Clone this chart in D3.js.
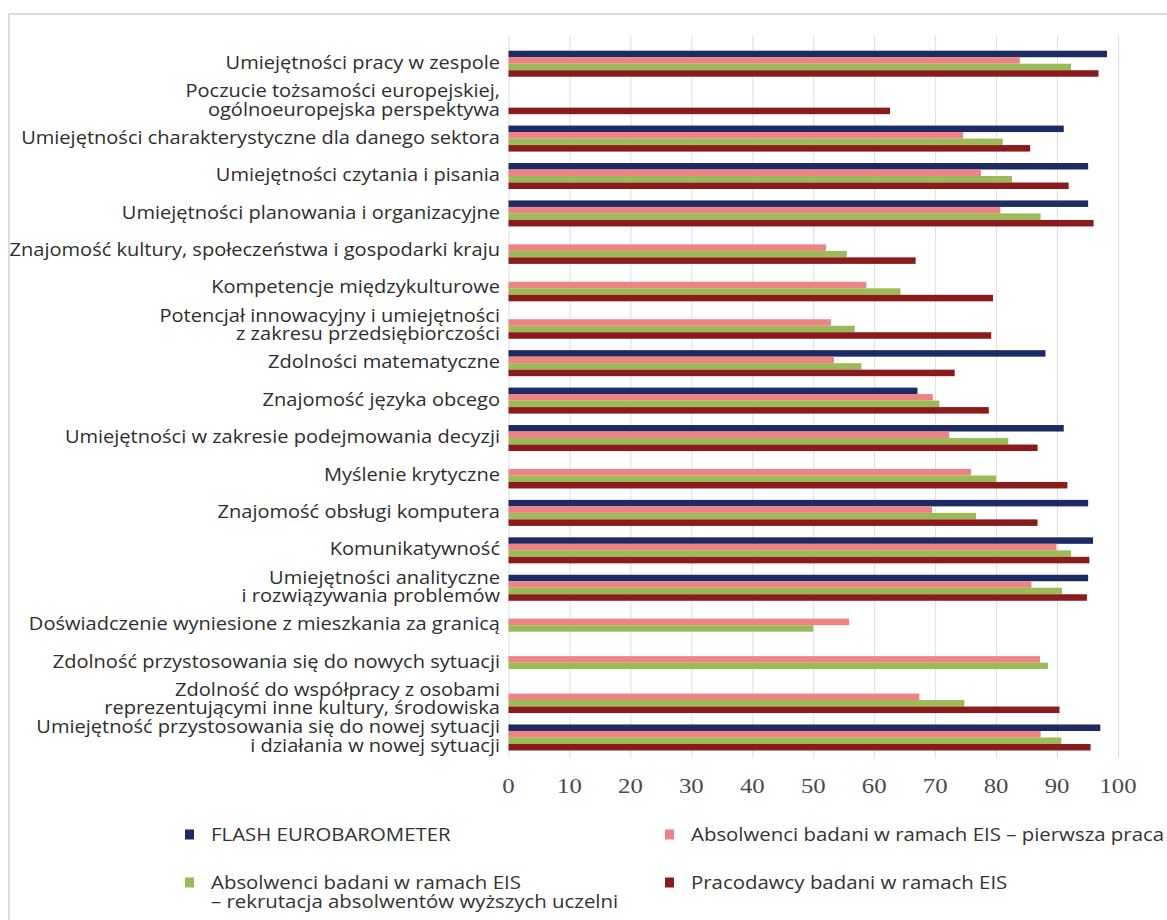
<!DOCTYPE html>
<html lang="pl">
<head>
<meta charset="utf-8">
<script src="https://cdn.jsdelivr.net/npm/d3@7"></script>
<style>
  html, body { margin: 0; padding: 0; background: #fff; }
  svg { display: block; }
</style>
</head>
<body>
<svg id="chart" width="1167" height="920"></svg>
<script>
// Skill categories (top to bottom); multi-line labels are split on "\n"
const categories = [
  "Umiejętności pracy w zespole",
  "Poczucie tożsamości europejskiej,\nogólnoeuropejska perspektywa",
  "Umiejętności charakterystyczne dla danego sektora",
  "Umiejętności czytania i pisania",
  "Umiejętności planowania i organizacyjne",
  "Znajomość kultury, społeczeństwa i gospodarki kraju",
  "Kompetencje międzykulturowe",
  "Potencjał innowacyjny i umiejętności\nz zakresu przedsiębiorczości",
  "Zdolności matematyczne",
  "Znajomość języka obcego",
  "Umiejętności w zakresie podejmowania decyzji",
  "Myślenie krytyczne",
  "Znajomość obsługi komputera",
  "Komunikatywność",
  "Umiejętności analityczne\ni rozwiązywania problemów",
  "Doświadczenie wyniesione z mieszkania za granicą",
  "Zdolność przystosowania się do nowych sytuacji",
  "Zdolność do współpracy z osobami\nreprezentującymi inne kultury, środowiska",
  "Umiejętność przystosowania się do nowej sytuacji\ni działania w nowej sytuacji"
];

// Series values (%), null = not surveyed
const flashEurobarometer = [98.2, null, 91.1, 95.1, 95.1, null, null, null, 88.1, 67.1, 91.1, null, 95.1, 95.9, 95.1, null, null, null, 97.1];
const graduatesFirstJob  = [83.9, null, 74.6, 77.5, 80.7, 52.1, 58.7, 52.9, 53.4, 69.6, 72.3, 75.9, 69.5, 89.9, 85.8, 55.9, 87.2, 67.4, 87.3];
const graduatesRecruit   = [92.3, null, 81.1, 82.6, 87.3, 55.5, 64.3, 56.8, 57.9, 70.7, 82.0, 80.0, 76.7, 92.3, 90.8, 50.0, 88.5, 74.8, 90.7];
const employers          = [96.8, 62.6, 85.6, 91.9, 96.0, 66.8, 79.5, 79.2, 73.2, 78.8, 86.8, 91.7, 86.8, 95.3, 94.9, null, null, 90.4, 95.5];

const seriesNames = [
  "FLASH EUROBAROMETER",
  "Absolwenci badani w ramach EIS – pierwsza praca",
  "Absolwenci badani w ramach EIS\n– rekrutacja absolwentów wyższych uczelni",
  "Pracodawcy badani w ramach EIS"
];
const seriesColors = ["#1d2a63", "#ef8282", "#9bbb59", "#8b1a1a"];
const xTicks = [0, 10, 20, 30, 40, 50, 60, 70, 80, 90, 100];

const seriesValues = [flashEurobarometer, graduatesFirstJob, graduatesRecruit, employers];
const rows = categories.map((c, i) => ({
  category: c,
  values: seriesValues.map((arr, s) => ({ s, v: arr[i] }))
}));

const svg = d3.select("#chart");
const textStretch = 1.18;
const labelStretch = 1.145;

// Outer frame
svg.append("line").attr("x1", 8).attr("x2", 1167).attr("y1", 14).attr("y2", 14)
  .attr("stroke", "#dcdcdc").attr("stroke-width", 2);
svg.append("line").attr("x1", 9).attr("x2", 9).attr("y1", 14).attr("y2", 920)
  .attr("stroke", "#dcdcdc").attr("stroke-width", 2);

const x = d3.scaleLinear().domain([0, 100]).range([508.5, 1118]);
const pad = 0.305;
const y = d3.scaleBand().domain(categories).range([45, 756.2])
  .paddingInner(pad).paddingOuter(pad / 2);
const ySub = d3.scaleBand().domain(d3.range(seriesNames.length)).range([0, y.bandwidth()]);

// Vertical gridlines
svg.append("g").selectAll("line").data(xTicks).join("line")
  .attr("x1", d => x(d) + 0.5).attr("x2", d => x(d) + 0.5)
  .attr("y1", 36).attr("y2", 758)
  .attr("stroke", "#dedede").attr("stroke-width", 1);

// Bars
const groups = svg.append("g").selectAll("g").data(rows).join("g")
  .attr("transform", d => `translate(0,${y(d.category)})`);
groups.selectAll("rect").data(d => d.values.filter(e => e.v != null)).join("rect")
  .attr("x", x(0))
  .attr("y", d => ySub(d.s))
  .attr("width", d => x(d.v) - x(0))
  .attr("height", ySub.bandwidth())
  .attr("fill", d => seriesColors[d.s]);

// Category labels, right-aligned against the value axis
const lineH = 18.5;
const labels = svg.append("g").selectAll("g").data(rows).join("g")
  .attr("transform", d => `translate(500,${y(d.category) + y.bandwidth() / 2 - 1}) scale(${labelStretch},1)`);
labels.append("text")
  .attr("text-anchor", "end")
  .attr("font-family", "'Open Sans', 'Noto Sans', sans-serif")
  .attr("font-size", 17.5)
  .attr("fill", "#2e2e2e")
  .each(function(d) {
    const lines = d.category.split("\n");
    const t = d3.select(this);
    lines.forEach((ln, k) => {
      t.append("tspan").attr("x", 0)
        .attr("y", (k - (lines.length - 1) / 2) * lineH)
        .attr("dy", "0.35em")
        .text(ln);
    });
  });

// Value axis tick labels
svg.append("g").selectAll("g").data(xTicks).join("g")
  .attr("transform", d => `translate(${x(d)},786) scale(${textStretch},1)`)
  .append("text")
  .attr("text-anchor", "middle")
  .attr("dy", "0.35em")
  .attr("font-family", "'Liberation Serif', 'DejaVu Serif', serif")
  .attr("font-size", 21)
  .attr("fill", "#4a4a4a")
  .text(d => d);

// Legend
const legendPos = [[185, 835], [665, 835], [185, 883], [665, 883]];
const legend = svg.append("g").selectAll("g").data(seriesNames).join("g")
  .attr("transform", (d, i) => `translate(${legendPos[i][0]},${legendPos[i][1]})`);
legend.append("rect")
  .attr("x", 0).attr("y", -5.5).attr("width", 9).attr("height", 10)
  .attr("fill", (d, i) => seriesColors[i]);
legend.append("g")
  .attr("transform", `translate(26,0) scale(${textStretch},1)`)
  .append("text")
  .attr("font-family", "'Open Sans', 'Noto Sans', sans-serif")
  .attr("font-size", 17.3)
  .attr("fill", "#333")
  .each(function(d) {
    const t = d3.select(this);
    d.split("\n").forEach((ln, k) => {
      t.append("tspan").attr("x", 0).attr("y", k * 19).attr("dy", "0.35em").text(ln);
    });
  });
</script>
</body>
</html>
